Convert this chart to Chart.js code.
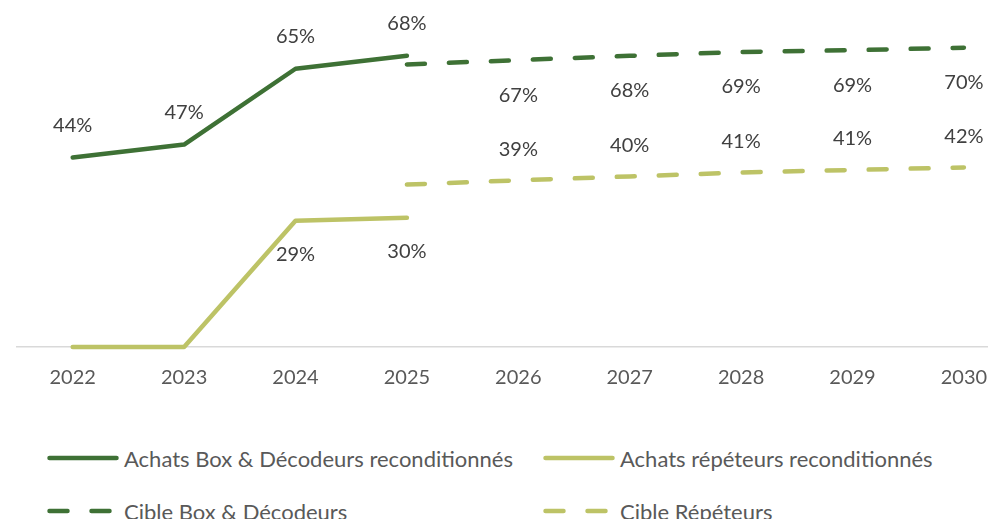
<!DOCTYPE html>
<html>
<head>
    <meta charset="utf-8">
    <style>
        html, body { margin: 0; padding: 0; overflow: hidden; background: #fff; width: 988px; height: 519px; }
        #wrap { position: relative; width: 988px; height: 519px; }
        canvas { position: absolute; left: 0; top: 0; }
        .leg { position: absolute; display: flex; align-items: center; font-family: Lato, "Open Sans", sans-serif; font-size: 22px; color: #595959; white-space: nowrap; }
        .leg svg { margin-right: 5px; }
    </style>
    <script src="https://cdn.jsdelivr.net/npm/chart.js"></script>
</head>
<body>
    <div id="wrap">
        <canvas id="myLineChart" width="1040" height="420"></canvas>
        <div id="legend"></div>
    </div>

    <script>
        // Données (en %)
        const annees = ['2022', '2023', '2024', '2025', '2026', '2027', '2028', '2029', '2030'];
        const achatsBox = [44.0, 47.0, 64.6, 67.6, null, null, null, null, null];
        const achatsRepeteurs = [0, 0, 29.3, 30.0, null, null, null, null, null];
        const cibleBox = [null, null, null, 65.6, 66.6, 67.6, 68.5, 68.9, 69.5];
        const cibleRepeteurs = [null, null, null, 37.7, 38.7, 39.6, 40.5, 41.1, 41.7];

        const vertFonce = '#3E7135';
        const vertClair = '#BDC366';
        const tirets = [18, 24];

        // Étiquettes de données (pas de plugin externe dispo)
        const etiquettes = {
            id: 'etiquettes',
            afterDatasetsDraw(chart) {
                const ctx = chart.ctx;
                ctx.save();
                ctx.font = '20px Lato, "Open Sans", sans-serif';
                ctx.fillStyle = '#404040';
                ctx.textAlign = 'center';
                ctx.textBaseline = 'middle';
                chart.data.datasets.forEach((ds, i) => {
                    const meta = chart.getDatasetMeta(i);
                    meta.data.forEach((pt, j) => {
                        const v = ds.data[j];
                        if (v === null || v === 0 || j < ds.labelFrom) return;
                        ctx.fillText(Math.round(v) + '%', pt.x, pt.y + ds.labelOffset);
                    });
                });
                ctx.restore();
            }
        };

        const ctx = document.getElementById('myLineChart').getContext('2d');
        const chart = new Chart(ctx, {
            type: 'line',
            data: {
                labels: annees,
                datasets: [
                    { label: 'Achats Box & Décodeurs reconditionnés', data: achatsBox, borderColor: vertFonce, labelOffset: -32, labelFrom: 0 },
                    { label: 'Achats répéteurs reconditionnés', data: achatsRepeteurs, borderColor: vertClair, labelOffset: 34, labelFrom: 0 },
                    { label: 'Cible Box & Décodeurs', data: cibleBox, borderColor: vertFonce, borderDash: tirets, labelOffset: 35, labelFrom: 4 },
                    { label: 'Cible Répéteurs', data: cibleRepeteurs, borderColor: vertClair, borderDash: tirets, labelOffset: -31, labelFrom: 4 }
                ].map(d => Object.assign({
                    borderWidth: 4.5,
                    borderCapStyle: 'round',
                    borderJoinStyle: 'round',
                    pointRadius: 0,
                    pointHoverRadius: 0,
                    tension: 0,
                    clip: false,
                    spanGaps: false
                }, d))
            },
            options: {
                responsive: false,
                animation: false,
                layout: { padding: { left: 17, right: 20.4, top: 2.4, bottom: 11 } },
                plugins: { legend: { display: false }, tooltip: { enabled: false } },
                scales: {
                    x: {
                        offset: true,
                        grid: { drawOnChartArea: false, drawTicks: false },
                        border: { display: true, color: '#D9D9D9', width: 1.5 },
                        ticks: { color: '#595959', font: { family: 'Lato, "Open Sans", sans-serif', size: 20 }, padding: 19, maxRotation: 0, autoSkip: false }
                    },
                    y: { display: false, min: 0, max: 80 }
                }
            },
            plugins: [etiquettes]
        });

        // Légende sur 2 colonnes, comme dans Excel
        const posLegende = [[47, 458], [543, 458], [47, 511], [543, 511]];
        const leg = document.getElementById('legend');
        chart.data.datasets.forEach((ds, i) => {
            const item = document.createElement('div');
            item.className = 'leg';
            item.style.left = posLegende[i][0] + 'px';
            item.style.top = (posLegende[i][1] - 14) + 'px';
            item.style.height = '28px';
            const dash = ds.borderDash ? `stroke-dasharray="${ds.borderDash.join(' ')}"` : '';
            item.innerHTML = `<svg width="72" height="10"><line x1="2.5" y1="5" x2="${ds.borderDash ? 66 : 69.5}" y2="5" stroke="${ds.borderColor}" stroke-width="4.5" stroke-linecap="round" ${dash}/></svg><span>${ds.label}</span>`;
            leg.appendChild(item);
        });
    </script>
</body>
</html>
